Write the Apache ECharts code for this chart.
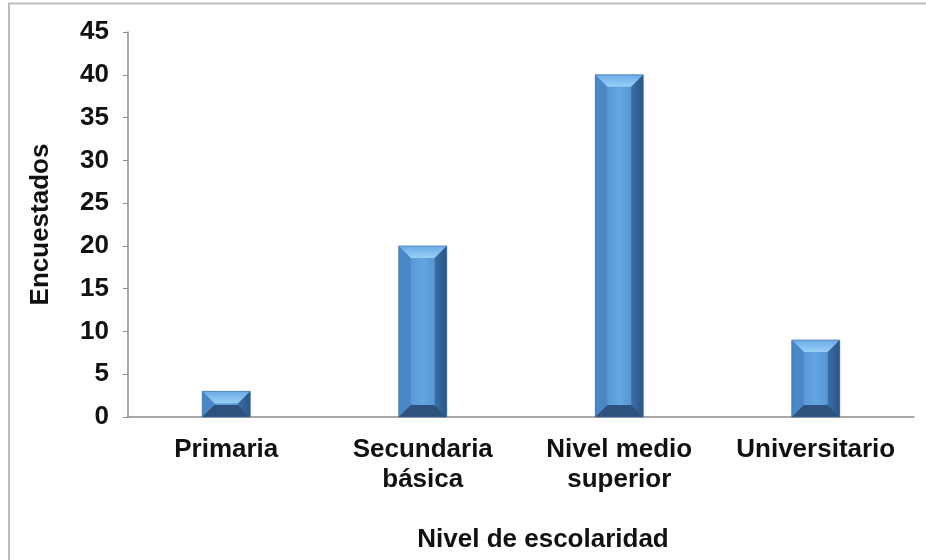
<!DOCTYPE html>
<html><head><meta charset="utf-8">
<script src="https://cdn.jsdelivr.net/npm/echarts@6/dist/echarts.min.js"></script>
<style>html,body{margin:0;padding:0;background:#fff}#c{width:926px;height:560px}</style>
</head><body><div id="c"></div>
<script>
const categories = ['Primaria', 'Secundaria\nbásica', 'Nivel medio\nsuperior', 'Universitario'];
const values = [3, 20, 40, 9];
const yTicks = [0, 5, 10, 15, 20, 25, 30, 35, 40, 45];

const chart = echarts.init(document.getElementById('c'));
const font = 'Liberation Sans, Arial, sans-serif';

function renderBar(params, api) {
  const i = api.value(0);
  const top = api.coord([i, api.value(1)]);
  const bot = api.coord([i, 0]);
  const w = 48;
  const x0 = top[0] - w / 2, x1 = top[0] + w / 2;
  const y0 = top[1], y1 = bot[1];
  const h = y1 - y0;
  const b = Math.min(12, h / 2);
  const bx = 12;
  const ix0 = x0 + bx, ix1 = x1 - bx, iy0 = y0 + b, iy1 = y1 - b;
  return {
    type: 'group',
    children: [
      { type: 'rect', shape: { x: x0, y: y0, width: w, height: h },
        style: { fill: new echarts.graphic.LinearGradient(0, 0, 1, 0, [
          { offset: 0, color: '#4d8acb' }, { offset: 0.5, color: '#64a6e2' }, { offset: 1, color: '#4a86c6' }]) } },
      { type: 'polygon', shape: { points: [[x0, y0], [x1, y0], [ix1, iy0], [ix0, iy0]] },
        style: { fill: new echarts.graphic.LinearGradient(0, 0, 0, 1, [
          { offset: 0, color: '#6aaae6' }, { offset: 1, color: '#9ad0f6' }]) } },
      { type: 'polygon', shape: { points: [[x0, y0], [ix0, iy0], [ix0, iy1], [x0, y1]] },
        style: { fill: '#4b87c7' } },
      { type: 'polygon', shape: { points: [[x1, y0], [x1, y1], [ix1, iy1], [ix1, iy0]] },
        style: { fill: new echarts.graphic.LinearGradient(0, 0, 1, 0, [
          { offset: 0, color: '#3a6fa6' }, { offset: 1, color: '#2a5584' }]) } },
      { type: 'polygon', shape: { points: [[x0, y1], [ix0, iy1], [ix1, iy1], [x1, y1]] },
        style: { fill: '#2d527e' } },
      { type: 'rect', shape: { x: x0, y: y0, width: w, height: h },
        style: { fill: 'none', stroke: '#3d6f9f', lineWidth: 0.6 } }
    ]
  };
}

chart.setOption({
  backgroundColor: '#fff',
  animation: false,
  graphic: [{ type: 'rect', shape: { x: 9, y: 3.5, width: 940, height: 600 },
    style: { fill: 'none', stroke: '#bdbdbd', lineWidth: 2 }, silent: true }],
  grid: { left: 128, right: 12, top: 32, bottom: 143, containLabel: false },
  xAxis: {
    type: 'category', data: categories,
    name: 'Nivel de escolaridad', nameLocation: 'middle', nameGap: 110,
    nameTextStyle: { fontFamily: font, fontWeight: 'bold', fontSize: 26, color: '#111', padding: [0, 0, 0, 44] },
    axisLine: { lineStyle: { color: '#8c8c8c', width: 1.5 } },
    axisTick: { show: false },
    axisLabel: { fontFamily: font, fontWeight: 'bold', fontSize: 26, color: '#111', margin: 18, lineHeight: 30, interval: 0 }
  },
  yAxis: {
    type: 'value', min: 0, max: 45, interval: 5,
    name: 'Encuestados', nameLocation: 'middle', nameGap: 74,
    nameTextStyle: { fontFamily: font, fontWeight: 'bold', fontSize: 26, color: '#111' },
    axisLine: { show: true, lineStyle: { color: '#8c8c8c', width: 1.5 } },
    axisTick: { show: true, length: 5, lineStyle: { color: '#8c8c8c' } },
    splitLine: { show: false },
    axisLabel: { fontFamily: font, fontWeight: 'bold', fontSize: 26, color: '#111', margin: 19,
      formatter: v => yTicks.includes(v) ? String(v) : '' }
  },
  series: [{
    type: 'custom',
    renderItem: renderBar,
    encode: { x: 0, y: 1 },
    data: values.map((v, i) => [i, v])
  }]
});
</script></body></html>
